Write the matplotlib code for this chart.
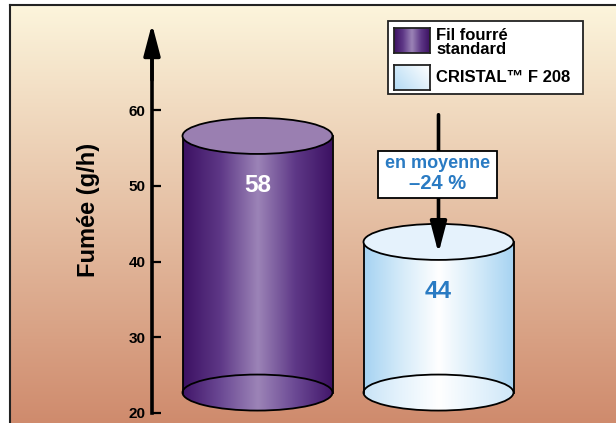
import numpy as np
import matplotlib
matplotlib.use("Agg")
import matplotlib.pyplot as plt
from matplotlib.patches import Ellipse, Rectangle, PathPatch
from matplotlib.path import Path
from matplotlib.colors import LinearSegmentedColormap

plt.rcParams['font.family'] = ['Liberation Sans', 'DejaVu Sans']
plt.rcParams['font.weight'] = 'bold'

# donnees
categories = ['Fil fourré\nstandard', 'CRISTAL™ F 208']
fumee = [58, 44]
y_ticks = [20, 30, 40, 50, 60]
y_label = 'Fumée (g/h)'
note_lines = ['en moyenne', '–24 %']

W, H = 616, 423
fig = plt.figure(figsize=(W / 100, H / 100), dpi=100)

def fx(px):
    return px / W

def fy(py):
    return 1 - py / H

# fond degrade
bg = fig.add_axes([fx(10), 0, fx(616) - fx(10), fy(5)])
top_c = np.array([252, 245, 220]) / 255
bot_c = np.array([207, 139, 109]) / 255
t = np.linspace(0, 1, 256)[:, None]
grad = top_c[None, None, :] * (1 - t[:, :, None]) + bot_c[None, None, :] * t[:, :, None]
bg.imshow(grad, aspect='auto', extent=[0, 1, 0, 1], interpolation='bilinear')
bg.set_xticks([])
bg.set_yticks([])
for s in ['right', 'bottom']:
    bg.spines[s].set_visible(False)
for s in ['left', 'top']:
    bg.spines[s].set_color('#222222')
    bg.spines[s].set_linewidth(1.5)

# axes des donnees (echelle: 7.57 px par g/h, 181 px par categorie)
ax = fig.add_axes([0, 0, 1, 1])
ax.patch.set_alpha(0)
ppu = 7.57
ax.set_ylim(20 - (H - 413) / ppu, 20 + 413 / ppu)
ax.set_xlim(-257.5 / 181, (W - 257.5) / 181)
for s in ['right', 'top', 'bottom']:
    ax.spines[s].set_visible(False)
ax.xaxis.set_visible(False)

axis_x = (152 - 257.5) / 181
ax.spines['left'].set_position(('data', axis_x))
ax.spines['left'].set_bounds(20, 68)
ax.spines['left'].set_linewidth(2.6)
ax.set_yticks(y_ticks)
ax.tick_params(axis='y', direction='in', length=6.5, width=1.6, labelsize=11, pad=4.5)
ax.annotate('', xy=(axis_x, 71.4), xytext=(axis_x, 64),
            arrowprops=dict(arrowstyle='-|>,head_length=1.9,head_width=0.5',
                            color='black', lw=2.6, shrinkA=0, shrinkB=0))

fig.text(fx(88), fy(210), y_label, rotation=90, ha='center', va='center',
         fontsize=17, fontweight='bold')

# cylindres
body_cmaps = [
    LinearSegmentedColormap.from_list('violet', ['#3C1162', '#5E3887', '#9C84B7', '#5E3887', '#3C1162']),
    LinearSegmentedColormap.from_list('cristal', ['#A6D3F2', '#D5EBF9', '#FFFFFF', '#D5EBF9', '#A6D3F2']),
]
base_cmaps = [
    LinearSegmentedColormap.from_list('violet_b', ['#42166A', '#6B4994', '#9C84B7', '#6B4994', '#42166A']),
    LinearSegmentedColormap.from_list('cristal_b', ['#C9E4F7', '#E6F3FC', '#FFFFFF', '#E6F3FC', '#CFE7F8']),
]
top_colors = ['#9A7FB1', '#E5F2FC']
label_colors = ['white', '#2A7BC3']

cw = 150 / 181
eh = 36 / ppu
base = 22.7
offset = 1.4
row = np.linspace(0, 1, 256)[None, :]

for i, v in enumerate(fumee):
    x0, x1 = i - cw / 2, i + cw / 2
    top = v - offset
    ang = np.linspace(np.pi, 2 * np.pi, 60)
    verts = [(x0, top), (x0, base)]
    verts += list(zip(i + cw / 2 * np.cos(ang), base + eh / 2 * np.sin(ang)))
    verts += [(x1, top), (x0, top)]
    body = Path(verts, [Path.MOVETO] + [Path.LINETO] * (len(verts) - 2) + [Path.CLOSEPOLY])
    im = ax.imshow(row, cmap=body_cmaps[i], aspect='auto', interpolation='bicubic',
                   extent=[x0, x1, base - eh / 2, top], zorder=2)
    im.set_clip_path(PathPatch(body, transform=ax.transData))

    bottom = Ellipse((i, base), cw, eh, facecolor='none', edgecolor='black', lw=1.3, zorder=4)
    ax.add_patch(bottom)
    im2 = ax.imshow(row, cmap=base_cmaps[i], aspect='auto', interpolation='bicubic',
                    extent=[x0, x1, base - eh / 2, base + eh / 2], zorder=3)
    im2.set_clip_path(bottom)

    ax.plot([x0, x0], [base, top], color='black', lw=1.3, zorder=4)
    ax.plot([x1, x1], [base, top], color='black', lw=1.3, zorder=4)
    ax.add_patch(Ellipse((i, top), cw, eh, facecolor=top_colors[i], edgecolor='black', lw=1.3, zorder=5))

    ax.text(i, v - 8, str(v), ha='center', va='center', fontsize=17.5,
            color=label_colors[i], fontweight='bold', zorder=6)

# fleche de reduction
ax.annotate('', xy=(1, fumee[1] - offset - 1.5), xytext=(1, fumee[0] + offset),
            arrowprops=dict(arrowstyle='-|>,head_length=1.9,head_width=0.5',
                            color='black', lw=2.6, shrinkA=0, shrinkB=0), zorder=7)
fig.patches.append(Rectangle((fx(378), fy(198)), fx(497) - fx(378), fy(151) - fy(198),
                             transform=fig.transFigure, facecolor='white',
                             edgecolor='black', lw=1.3, zorder=8))
fig.text(fx(437.5), fy(163.5), note_lines[0], ha='center', va='center',
         fontsize=13, color='#2A7BC3', zorder=9)
fig.text(fx(437.5), fy(183), note_lines[1], ha='center', va='center',
         fontsize=14.5, color='#2A7BC3', zorder=9)

# legende
fig.patches.append(Rectangle((fx(388), fy(94)), fx(583) - fx(388), fy(21) - fy(94),
                             transform=fig.transFigure, facecolor='white',
                             edgecolor='#222222', lw=1.3, zorder=8))
sw1 = fig.add_axes([fx(394), fy(53), fx(430) - fx(394), fy(28) - fy(53)], zorder=10)
sw1.imshow(row, cmap=body_cmaps[0], aspect='auto', interpolation='bicubic')
sw2 = fig.add_axes([fx(394), fy(90), fx(430) - fx(394), fy(65) - fy(90)], zorder=10)
xx, yy = np.meshgrid(np.linspace(0, 1, 64), np.linspace(0, 1, 64))
sw2.imshow(xx + (1 - yy) * 0.6, cmap=LinearSegmentedColormap.from_list('sw', ['#B3DAF4', '#FFFFFF']),
           aspect='auto', interpolation='bicubic')
for sw in (sw1, sw2):
    sw.set_xticks([])
    sw.set_yticks([])
    for s in sw.spines.values():
        s.set_linewidth(1.3)
        s.set_color('#222222')
fig.text(fx(436), fy(42.5), categories[0], ha='left', va='center', fontsize=12,
         linespacing=0.98, zorder=9)
fig.text(fx(436), fy(77.5), categories[1], ha='left', va='center', fontsize=12, zorder=9)

fig.savefig('out.png', dpi=100)
